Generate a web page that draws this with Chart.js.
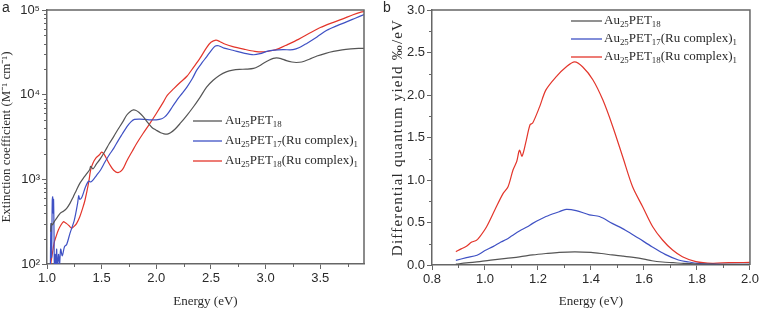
<!DOCTYPE html>
<html>
<head>
<meta charset="utf-8">
<script src="https://cdn.jsdelivr.net/npm/chart.js@4.4.0/dist/chart.umd.min.js"></script>
<style>
body { margin: 0; background: #fff; }
#wrap { position: relative; width: 761px; height: 309px; }
.pane { position: absolute; top: 0; height: 309px; }
</style>
</head>
<body>
<div id="wrap">
  <div class="pane" style="left:0;width:380px"><canvas id="absChart"></canvas></div>
  <div class="pane" style="left:380px;width:381px"><canvas id="qyChart"></canvas></div>
</div>
<script>
// series names (subscripts marked with _{..})
const seriesNames = ['Au_{25}PET_{18}', 'Au_{25}PET_{17}(Ru complex)_{1}', 'Au_{25}PET_{18}(Ru complex)_{1}'];
const seriesColors = ['#555555', '#3f51c4', '#e3352b'];

// panel a: extinction coefficient (M-1 cm-1) vs energy (eV)
const absEnergyGray = [1.034, 1.04, 1.05, 1.065, 1.09, 1.12, 1.15, 1.18, 1.21, 1.24, 1.27, 1.30, 1.33, 1.36, 1.39, 1.40, 1.42, 1.45, 1.49, 1.53, 1.57, 1.61, 1.65, 1.69, 1.73, 1.76, 1.79, 1.81, 1.84, 1.88, 1.92, 1.96, 2.00, 2.04, 2.07, 2.10, 2.13, 2.17, 2.22, 2.28, 2.34, 2.40, 2.46, 2.52, 2.58, 2.64, 2.70, 2.76, 2.82, 2.89, 2.94, 2.98, 3.03, 3.07, 3.10, 3.14, 3.19, 3.24, 3.28, 3.33, 3.40, 3.47, 3.55, 3.62, 3.70, 3.78, 3.85, 3.90];
const absGray = [240, 300, 290, 315, 350, 397, 420, 455, 520, 620, 750, 895, 1020, 1150, 1300, 1420, 1330, 1500, 1770, 2150, 2650, 3200, 3900, 4700, 5750, 6300, 6600, 6550, 6200, 5500, 4700, 4100, 3800, 3550, 3450, 3420, 3550, 3900, 4600, 5700, 7200, 9300, 12300, 14800, 17000, 18600, 19500, 19900, 20000, 20400, 21800, 23500, 25500, 26800, 27200, 26700, 25200, 24300, 24000, 24300, 26200, 28600, 30800, 32400, 33800, 34700, 35200, 35300];

const absEnergyBlue = [1.03, 1.036, 1.042, 1.048, 1.052, 1.056, 1.06, 1.064, 1.068, 1.075, 1.08, 1.088, 1.095, 1.105, 1.115, 1.125, 1.14, 1.16, 1.18, 1.21, 1.25, 1.28, 1.29, 1.30, 1.32, 1.35, 1.38, 1.40, 1.42, 1.45, 1.49, 1.53, 1.57, 1.61, 1.65, 1.69, 1.73, 1.77, 1.80, 1.85, 1.90, 1.95, 2.00, 2.05, 2.08, 2.11, 2.15, 2.19, 2.24, 2.28, 2.33, 2.37, 2.42, 2.46, 2.50, 2.54, 2.57, 2.62, 2.70, 2.80, 2.89, 2.95, 3.01, 3.08, 3.16, 3.25, 3.31, 3.38, 3.47, 3.56, 3.65, 3.74, 3.82, 3.90];
const absBlue = [70, 300, 120, 560, 620, 400, 580, 250, 90, 130, 70, 150, 85, 130, 100, 150, 125, 160, 170, 230, 330, 520, 640, 580, 620, 800, 950, 930, 980, 1100, 1290, 1600, 1950, 2320, 2850, 3450, 4170, 4800, 5100, 5150, 5100, 5050, 5050, 5200, 5500, 6100, 7300, 8700, 10500, 12300, 15500, 19500, 24000, 28000, 33000, 37500, 37800, 35500, 33500, 31000, 29600, 30500, 32400, 33500, 34000, 34000, 36000, 40600, 48000, 57600, 65000, 72300, 80000, 88500];

const absEnergyRed = [1.034, 1.05, 1.065, 1.085, 1.104, 1.125, 1.15, 1.165, 1.18, 1.20, 1.226, 1.25, 1.27, 1.30, 1.325, 1.348, 1.38, 1.40, 1.42, 1.45, 1.48, 1.50, 1.52, 1.55, 1.58, 1.61, 1.65, 1.69, 1.73, 1.78, 1.82, 1.88, 1.94, 2.00, 2.06, 2.10, 2.16, 2.22, 2.28, 2.34, 2.40, 2.46, 2.50, 2.545, 2.58, 2.62, 2.70, 2.80, 2.90, 2.98, 3.05, 3.12, 3.20, 3.30, 3.40, 3.50, 3.60, 3.70, 3.80, 3.88, 3.90];
const absRed = [100, 135, 177, 215, 252, 285, 316, 310, 300, 285, 265, 280, 300, 362, 450, 570, 900, 1300, 1550, 1800, 1950, 2100, 2000, 1700, 1450, 1280, 1200, 1300, 1650, 2150, 2650, 3500, 4550, 6000, 8000, 9800, 11800, 14000, 16500, 21000, 27000, 36000, 41500, 44000, 42500, 40000, 37000, 34500, 32500, 32000, 33000, 35000, 39000, 45000, 53000, 62000, 70000, 78000, 88000, 95000, 96000];

// panel b: differential quantum yield (permil/eV) vs energy (eV)
const qyEnergyGray = [0.89, 0.93, 0.98, 1.03, 1.08, 1.13, 1.18, 1.23, 1.28, 1.34, 1.40, 1.44, 1.48, 1.52, 1.56, 1.60, 1.63, 1.67, 1.71, 1.75, 1.80, 1.85, 1.90, 1.95, 2.00];
const qyGray = [0.01, 0.025, 0.04, 0.06, 0.078, 0.095, 0.118, 0.135, 0.149, 0.155, 0.148, 0.135, 0.118, 0.105, 0.09, 0.07, 0.05, 0.035, 0.027, 0.018, 0.012, 0.01, 0.008, 0.008, 0.008];

const qyEnergyBlue = [0.89, 0.93, 0.97, 1.00, 1.03, 1.06, 1.08, 1.10, 1.13, 1.16, 1.18, 1.23, 1.28, 1.306, 1.344, 1.394, 1.432, 1.48, 1.53, 1.58, 1.63, 1.68, 1.73, 1.77, 1.80, 1.86, 1.92, 2.00];
const qyBlue = [0.055, 0.086, 0.115, 0.17, 0.216, 0.27, 0.30, 0.34, 0.40, 0.45, 0.49, 0.57, 0.627, 0.655, 0.64, 0.59, 0.57, 0.49, 0.41, 0.314, 0.216, 0.125, 0.059, 0.035, 0.02, 0.01, 0.008, 0.008];

const qyEnergyRed = [0.89, 0.91, 0.93, 0.95, 0.968, 0.98, 1.006, 1.037, 1.068, 1.087, 1.106, 1.12, 1.13, 1.14, 1.156, 1.17, 1.18, 1.206, 1.23, 1.27, 1.306, 1.338, 1.369, 1.407, 1.445, 1.482, 1.52, 1.557, 1.595, 1.633, 1.67, 1.708, 1.745, 1.796, 1.858, 1.92, 2.00];
const qyRed = [0.157, 0.19, 0.22, 0.27, 0.29, 0.33, 0.45, 0.647, 0.84, 0.92, 1.12, 1.22, 1.35, 1.28, 1.47, 1.65, 1.67, 1.86, 2.06, 2.22, 2.33, 2.39, 2.33, 2.18, 1.94, 1.63, 1.27, 0.92, 0.686, 0.45, 0.294, 0.176, 0.098, 0.04, 0.02, 0.028, 0.03];

// tick lists
const absXTicks = [1.0, 1.5, 2.0, 2.5, 3.0, 3.5];
const absXMinor = [1.25, 1.75, 2.25, 2.75, 3.25, 3.75];
const absYTicks = [1e2, 1e3, 1e4, 1e5];
const qyXTicks = [0.8, 1.0, 1.2, 1.4, 1.6, 1.8, 2.0];
const qyXMinor = [0.9, 1.1, 1.3, 1.5, 1.7, 1.9];
const qyYTicks = [0, 0.5, 1.0, 1.5, 2.0, 2.5, 3.0];
const qyYMinor = [0.25, 0.75, 1.25, 1.75, 2.25, 2.75];

const absYMinor = [];
[100, 1000, 10000].forEach((d) => {
    for (let k = 2; k <= 9; k++) absYMinor.push(k * d);
});

const toPoints = (xs, ys) => xs.map((x, i) => ({ x: x, y: ys[i] }));
const supDigits = { '2': '\u00b2', '3': '\u00b3', '4': '\u2074', '5': '\u2075' };

const axisColor = '#666666';
const textColor = '#2a2a2a';

// draws text with _{..} parts as subscripts
const drawRich = (ctx, text, x, y, size) => {
    const parts = text.split(/(_\{[^}]*\})/).filter((p) => p.length);
    let cx = x;
    parts.forEach((p) => {
        if (p.startsWith('_{')) {
            const s = p.slice(2, -1);
            ctx.font = (size * 0.68) + 'px "Liberation Serif"';
            ctx.fillText(s, cx, y + size * 0.28);
            cx += ctx.measureText(s).width;
        } else {
            ctx.font = size + 'px "Liberation Serif"';
            ctx.fillText(p, cx, y);
            cx += ctx.measureText(p).width;
        }
    });
};

const decorPlugin = {
    id: 'decor',
    afterDraw(chart, args, opts) {
        const ctx = chart.ctx;
        const area = chart.chartArea;
        const xs = chart.scales.x;
        const ys = chart.scales.y;
        ctx.save();
        // top and right frame
        ctx.strokeStyle = axisColor;
        ctx.lineWidth = 1.5;
        ctx.beginPath();
        ctx.moveTo(area.left, area.top);
        ctx.lineTo(area.right, area.top);
        ctx.lineTo(area.right, area.bottom);
        ctx.stroke();
        // minor ticks
        ctx.lineWidth = 1;
        ctx.beginPath();
        opts.minorX.forEach((v) => {
            const px = Math.round(xs.getPixelForValue(v)) + 0.5;
            ctx.moveTo(px, area.bottom);
            ctx.lineTo(px, area.bottom + 3);
        });
        opts.minorY.forEach((v) => {
            const py = Math.round(ys.getPixelForValue(v)) + 0.5;
            ctx.moveTo(area.left, py);
            ctx.lineTo(area.left - 3, py);
        });
        ctx.stroke();
        // legend
        ctx.textBaseline = 'middle';
        ctx.fillStyle = textColor;
        seriesNames.forEach((name, i) => {
            const y = opts.legendRows[i];
            ctx.strokeStyle = seriesColors[i];
            ctx.lineWidth = 1.3;
            ctx.beginPath();
            ctx.moveTo(opts.legendX0, y);
            ctx.lineTo(opts.legendX1, y);
            ctx.stroke();
            drawRich(ctx, name, opts.legendText, y, 13);
        });
        // spaced-out y title (panel b)
        if (opts.yTitle) {
            ctx.save();
            ctx.translate(opts.yTitleX, (area.top + area.bottom) / 2);
            ctx.rotate(-Math.PI / 2);
            ctx.font = '15px "Liberation Serif"';
            ctx.letterSpacing = '1.2px';
            ctx.textAlign = 'center';
            ctx.fillText(opts.yTitle, 0, 0);
            ctx.restore();
        }
        // panel letter
        ctx.font = '14px "Liberation Sans"';
        ctx.textBaseline = 'alphabetic';
        ctx.fillText(opts.letter, opts.letterX, 12);
        ctx.restore();
    },
};

const makeDatasets = (sets) => sets.map((pts, i) => ({
    label: seriesNames[i],
    data: pts,
    borderColor: seriesColors[i],
    borderWidth: 1.2,
    pointRadius: 0,
    tension: 0.3,
    fill: false,
}));

const axisBase = (titleText, titlePad, titleSize) => ({
    border: { color: axisColor, width: 1.5 },
    grid: { drawOnChartArea: false, tickLength: 5, color: axisColor, tickColor: axisColor, tickWidth: 1 },
    ticks: { color: textColor, font: { family: 'Liberation Sans', size: 13 }, padding: 2, maxRotation: 0, autoSkip: false },
    title: { display: !!titleText, text: titleText, color: textColor, font: { family: 'Liberation Serif', size: titleSize }, padding: titlePad },
});

const renderAbsChart = () => {
    const ctx = document.getElementById('absChart').getContext('2d');
    const xAxis = axisBase('Energy (eV)', { top: 0, bottom: 0 }, 13);
    xAxis.type = 'linear';
    xAxis.min = 1.0;
    xAxis.max = 3.9;
    xAxis.afterBuildTicks = (s) => { s.ticks = absXTicks.map((v) => ({ value: v })); };
    xAxis.afterFit = (s) => { s.height = 45; };
    xAxis.ticks.callback = (v) => v.toFixed(1);
    const yAxis = axisBase('Extinction coefficient (M\u207b\u00b9 cm\u207b\u00b9)', { top: -1, bottom: 0 }, 13);
    yAxis.type = 'logarithmic';
    yAxis.min = 100;
    yAxis.max = 100000;
    yAxis.afterBuildTicks = (s) => { s.ticks = absYTicks.map((v) => ({ value: v })); };
    yAxis.afterFit = (s) => { s.width = 47; };
    yAxis.ticks.callback = (v) => '10' + supDigits[String(Math.round(Math.log10(v)))];

    new Chart(ctx, {
        type: 'line',
        data: {
            datasets: makeDatasets([
                toPoints(absEnergyGray, absGray),
                toPoints(absEnergyBlue, absBlue),
                toPoints(absEnergyRed, absRed),
            ]),
        },
        options: {
            responsive: true,
            maintainAspectRatio: false,
            animation: false,
            layout: { padding: { top: 10, right: 16, left: 0, bottom: 0 } },
            plugins: {
                legend: { display: false },
                tooltip: { enabled: false },
                decor: { minorX: absXMinor, minorY: absYMinor, legendRows: [121, 141, 161], legendX0: 193, legendX1: 222, legendText: 225, letter: 'a', letterX: 2 },
            },
            scales: { x: xAxis, y: yAxis },
        },
        plugins: [decorPlugin],
    });
};

const renderQyChart = () => {
    const ctx = document.getElementById('qyChart').getContext('2d');
    const xAxis = axisBase('Energy (eV)', { top: 0, bottom: 0 }, 13);
    xAxis.type = 'linear';
    xAxis.min = 0.8;
    xAxis.max = 2.0;
    xAxis.afterBuildTicks = (s) => { s.ticks = qyXTicks.map((v) => ({ value: v })); };
    xAxis.afterFit = (s) => { s.height = 44; };
    xAxis.ticks.callback = (v) => v.toFixed(1);
    const yAxis = axisBase('', { top: 0, bottom: 0 }, 14);
    yAxis.min = 0;
    yAxis.max = 3.0;
    yAxis.afterBuildTicks = (s) => { s.ticks = qyYTicks.map((v) => ({ value: v })); };
    yAxis.afterFit = (s) => { s.width = 52; };
    yAxis.ticks.callback = (v) => v.toFixed(1);

    new Chart(ctx, {
        type: 'line',
        data: {
            datasets: makeDatasets([
                toPoints(qyEnergyGray, qyGray),
                toPoints(qyEnergyBlue, qyBlue),
                toPoints(qyEnergyRed, qyRed),
            ]),
        },
        options: {
            responsive: true,
            maintainAspectRatio: false,
            animation: false,
            layout: { padding: { top: 10, right: 10, left: 0, bottom: 0 } },
            plugins: {
                legend: { display: false },
                tooltip: { enabled: false },
                decor: { minorX: qyXMinor, minorY: qyYMinor, legendRows: [21, 39, 57], legendX0: 191, legendX1: 222, legendText: 224, letter: 'b', letterX: 3, yTitle: 'Differential quantum yield \u2030/eV', yTitleX: 18 },
            },
            scales: { x: xAxis, y: yAxis },
        },
        plugins: [decorPlugin],
    });
};

window.addEventListener('load', () => {
    renderAbsChart();
    renderQyChart();
});
</script>
</body>
</html>
